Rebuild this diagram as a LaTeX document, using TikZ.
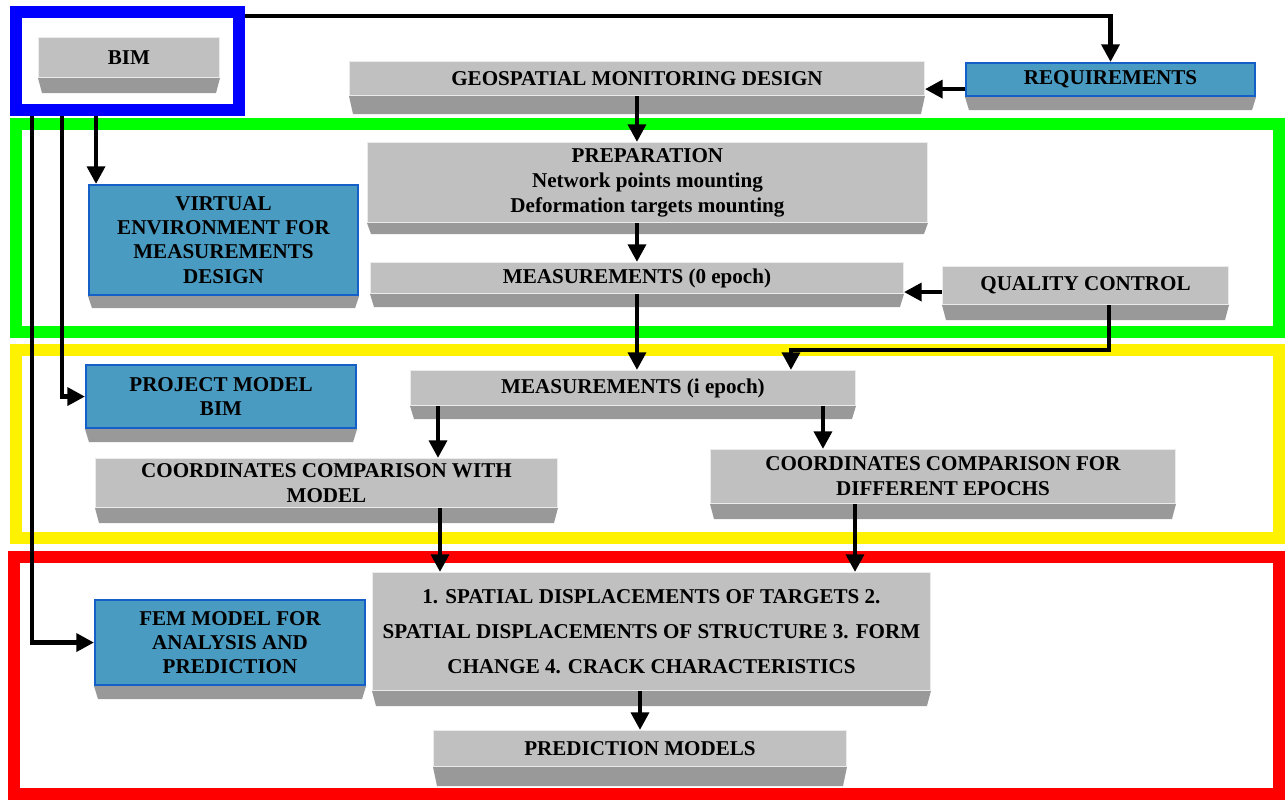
\documentclass[tikz,border=0pt]{standalone}
\usepackage{fontspec}
\setmainfont{Liberation Serif}
\usepackage{tikz}
\usetikzlibrary{arrows.meta, positioning, calc}
\definecolor{BoxGray}{HTML}{C0C0C0}
\definecolor{BandGray}{HTML}{999999}
\definecolor{BoxBlue}{HTML}{4A9BC1}
\definecolor{EdgeBlue}{HTML}{1560C8}
\tikzset{
    graybox/.style={fill=BoxGray, draw=black!8, line width=0.6pt, anchor=north west, inner sep=0pt, align=center, font=\bfseries\fontsize{12}{14.2}\selectfont},
    bluebox/.style={fill=BoxBlue, draw=EdgeBlue, line width=1.2pt, anchor=north west, inner sep=0pt, align=center, font=\bfseries\fontsize{12}{13.7}\selectfont},
    arr/.style={line width=2.7pt, -{Triangle[length=10pt,width=10pt]}},
    zoneframe/.style={line width=0.24cm}
}

\begin{document}
\begin{tikzpicture}[x=0.02cm, y=-0.02cm]
    \useasboundingbox (0,0) rectangle (1285,800);
    % coloured zones
    \draw[zoneframe, draw=green] (16,124) rectangle (1279,332);
    \draw[zoneframe, draw=yellow] (16,350) rectangle (1279,538);
    \draw[zoneframe, draw=red] (14,557) rectangle (1279,794);
    \node[draw=blue, line width=0.24cm, minimum width=4.46cm, minimum height=1.96cm] (bimframe) at (127.5,61) {};

    % boxes
    \node[graybox, minimum width=3.62cm, minimum height=0.8cm] (bim) at (38,37) {BIM};
    \node[graybox, minimum width=11.5cm, minimum height=0.68cm] (geo) at (349,61) {GEOSPATIAL MONITORING DESIGN};
    \node[bluebox, minimum width=5.78cm, minimum height=0.66cm] (req) at (965,62) {REQUIREMENTS};
    \node[graybox, minimum width=11.2cm, minimum height=1.6cm] (prep) at (367,142) {PREPARATION\\Network points mounting\\Deformation targets mounting};
    \node[bluebox, minimum width=5.38cm, minimum height=2.2cm] (virt) at (88,184) {VIRTUAL\\ENVIRONMENT FOR\\MEASUREMENTS\\DESIGN};
    \node[graybox, minimum width=10.66cm, minimum height=0.62cm] (meas0) at (370,262) {MEASUREMENTS (0 epoch)};
    \node[graybox, minimum width=5.72cm, minimum height=0.76cm] (qc) at (942,266) {QUALITY CONTROL};
    \node[bluebox, minimum width=5.4cm, minimum height=1.26cm] (proj) at (85,364) {PROJECT MODEL\\BIM};
    \node[graybox, minimum width=8.9cm, minimum height=0.7cm] (measi) at (410,370) {MEASUREMENTS (i epoch)};
    \node[graybox, minimum width=9.24cm, minimum height=0.98cm] (cmpmodel) at (95,458) {COORDINATES COMPARISON WITH\\MODEL};
    \node[graybox, minimum width=9.3cm, minimum height=1.08cm] (cmpepoch) at (710,449) {COORDINATES COMPARISON FOR\\DIFFERENT EPOCHS};
    \node[graybox, minimum width=11.16cm, minimum height=2.36cm, font=\bfseries\fontsize{12}{20}\selectfont] (disp) at (372,572) {1. SPATIAL DISPLACEMENTS OF TARGETS 2.\\SPATIAL DISPLACEMENTS OF STRUCTURE 3. FORM\\CHANGE 4. CRACK CHARACTERISTICS};
    \node[bluebox, minimum width=5.4cm, minimum height=1.7cm] (fem) at (94,599) {FEM MODEL FOR\\ANALYSIS AND\\PREDICTION};
    \node[graybox, minimum width=8.26cm, minimum height=0.72cm] (pred) at (433,730) {PREDICTION MODELS};

    % bevelled bottoms
    \foreach \n/\d in {bim/15, geo/18, prep/11, meas0/13, qc/15, measi/13, cmpmodel/15, cmpepoch/15, disp/15, pred/19, req/13, virt/12, proj/13, fem/13} {
        \fill[BandGray] (\n.south west) -- (\n.south east) -- ($(\n.south east)+(-4,\d)$) -- ($(\n.south west)+(4,\d)$) -- cycle;
    }

    % connectors
    \coordinate (virtx) at ($(bimframe.south west)+(86,0)$);
    \coordinate (projx) at ($(bimframe.south west)+(52,0)$);
    \coordinate (femx) at ($(bimframe.south west)+(22,0)$);
    \draw[arr] (virtx) -- (virtx |- virt.north);
    \draw[arr] (projx) |- (proj.west);
    \draw[arr] (femx) |- (fem.west);
    \draw[arr] ($(bimframe.north east)+(0,10)$) -| (req.north);
    \coordinate (reqout) at ($(req.south west)+(0,-8)$);
    \draw[arr] (reqout) -- (geo.east |- reqout);
    \draw[arr] (geo.south) -- (geo.south |- prep.north);
    \draw[arr] (meas0.north |- prep.south) -- (meas0.north);
    \coordinate (qcout) at ($(qc.south west)+(0,-13)$);
    \draw[arr] (qcout) -- (meas0.east |- qcout);
    \draw[arr] (meas0.south) -- (meas0.south |- measi.north);
    \coordinate (qcdown) at ($(qc.south east)+(-120,0)$);
    \coordinate (measiin) at ($(measi.north east)+(-65,0)$);
    \draw[arr] (qcdown) -- ++(0,45) -| (measiin);
    \coordinate (cmx1) at ($(measi.south west)+(28,0)$);
    \coordinate (cmx2) at ($(measi.south east)+(-33,0)$);
    \draw[arr] (cmx1) -- (cmx1 |- cmpmodel.north);
    \draw[arr] (cmx2) -- (cmx2 |- cmpepoch.north);
    \coordinate (dx1) at ($(disp.north west)+(68,0)$);
    \coordinate (dx2) at ($(disp.north west)+(483,0)$);
    \draw[arr] (dx1 |- cmpmodel.south) -- (dx1);
    \draw[arr] (dx2 |- cmpepoch.south) -- (dx2);
    \draw[arr] (pred.north |- disp.south) -- (pred.north);
\end{tikzpicture}
\end{document}
